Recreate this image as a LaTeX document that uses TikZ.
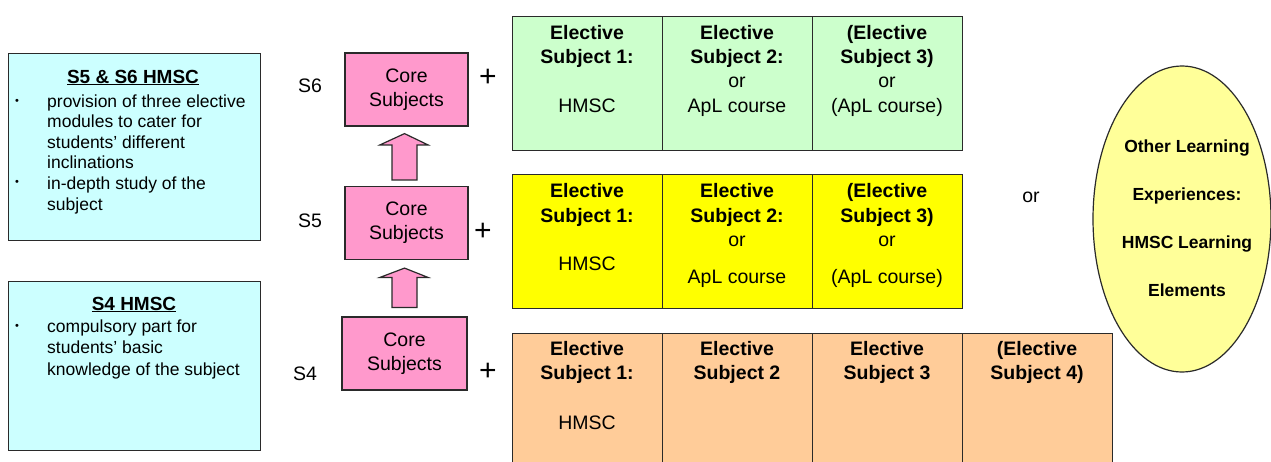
\documentclass[tikz,border=0pt]{standalone}
\usepackage{fontspec}
\setmainfont{Liberation Sans}
\usetikzlibrary{calc,shapes.geometric}
\definecolor{cyanfill}{HTML}{CCFFFF}
\definecolor{greenfill}{HTML}{CCFFCC}
\definecolor{yellowfill}{HTML}{FFFF00}
\definecolor{orangefill}{HTML}{FFCC99}
\definecolor{pinkfill}{HTML}{FF99CC}
\definecolor{ellfill}{HTML}{FFFF99}
\definecolor{edge}{HTML}{2A2A2A}
\newcommand{\apos}{{\char"27}}
\begin{document}
\begin{tikzpicture}[x=1pt,y=-1pt,
  infobox/.style={draw=edge,line width=1.2pt,fill=cyanfill,anchor=north west,inner sep=0pt},
  corebox/.style={draw=edge,line width=1.2pt,fill=pinkfill,minimum width=123pt,minimum height=73pt,inner sep=0pt,align=center,font=\fontsize{19.5}{24}\selectfont},
  cell/.style={draw=edge,line width=1.2pt,anchor=north west,minimum width=150pt,minimum height=134pt,inner sep=0pt},
  blockarr/.style={draw=edge,line width=1.2pt,fill=pinkfill,line join=miter},
  hd/.style={anchor=base,inner sep=0pt,font=\fontsize{19.5}{24}\bfseries},
  tx/.style={anchor=base,inner sep=0pt,font=\fontsize{19.5}{24}\selectfont},
  plus/.style={anchor=base,inner sep=0pt,font=\fontsize{30}{32}\selectfont},
  side/.style={anchor=base west,inner sep=0pt,font=\fontsize{17.5}{21}\selectfont},
  bul/.style={anchor=base,inner sep=0pt,font=\fontsize{11}{12}\selectfont},
  lhd/.style={anchor=base,inner sep=0pt,font=\fontsize{19}{22}\bfseries},
  ell/.style={anchor=base,inner sep=0pt,font=\fontsize{17.5}{21}\bfseries}]
\useasboundingbox (0,0) rectangle (1271,461);
\fill[white] (0,0) rectangle (1271,461);

% left info boxes
\node[infobox,minimum width=252pt,minimum height=187pt] (info56) at (8,53) {};
\node[lhd] (h56) at (133,83) {\underline{S5 \& S6 HMSC}};
\node[bul] (b1) at (17,104) {•};
\node[side] (l1) at (47,107) {provision of three elective};
\node[side] (l2) at (47,127) {modules to cater for};
\node[side] (l3) at (47,148) {students\apos\ different};
\node[side] (l4) at (47,168) {inclinations};
\node[bul] (b2) at (17,185) {•};
\node[side] (l5) at (47,189) {in-depth study of the};
\node[side] (l6) at (47,210) {subject};

\node[infobox,minimum width=252pt,minimum height=169pt] (info4) at (8,281) {};
\node[lhd] (h4) at (134,310) {\underline{S4 HMSC}};
\node[bul] (b3) at (17,329) {•};
\node[side] (m1) at (47,332) {compulsory part for};
\node[side] (m2) at (47,353) {students\apos\ basic};
\node[side] (m3) at (47,375) {knowledge of the subject};

% level labels
\node[tx] (s6) at (310,92) {S6};
\node[tx] (s5) at (310,227) {S5};
\node[tx] (s4) at (305,380) {S4};

% core subject boxes
\node[corebox] (c6) at (406.5,89.5) {Core\\Subjects};
\node[corebox] (c5) at (406.5,223) {Core\\Subjects};
\node[corebox,minimum width=125pt] (c4) at (404.5,353.5) {Core\\Subjects};

% block arrows
\coordinate (a1) at ($(c5.north)+(-2,-6)$);
\draw[blockarr] ($(a1)+(-12.5,0)$) -- ($(a1)+(-12.5,-35)$) -- ($(a1)+(-24.5,-35)$)
  -- ($(c6.south)+(-2,7)$) -- ($(a1)+(23.5,-35)$) -- ($(a1)+(12.5,-35)$) -- ($(a1)+(12.5,0)$) -- cycle;
\coordinate (a2) at ($(c4.north)+(0,-9)$);
\draw[blockarr] ($(a2)+(-12.5,0)$) -- ($(a2)+(-12.5,-30)$) -- ($(a2)+(-24.5,-30)$)
  -- ($(c5.south)+(-2,8)$) -- ($(a2)+(23.5,-30)$) -- ($(a2)+(12.5,-30)$) -- ($(a2)+(12.5,0)$) -- cycle;

% plus signs
\node[plus] (p6) at (488,86) {+};
\node[plus] (p5) at (483,240) {+};
\node[plus] (p4) at (488,380) {+};

% S6 elective table (green)
\node[cell,fill=greenfill] (g1) at (512,16) {};
\node[cell,fill=greenfill] (g2) at (662,16) {};
\node[cell,fill=greenfill] (g3) at (812,16) {};
\node[hd] at (587,39) {Elective};
\node[hd] at (587,63) {Subject 1:};
\node[tx] at (587,112) {HMSC};
\node[hd] at (737,39) {Elective};
\node[hd] at (737,63) {Subject 2:};
\node[tx] at (737,87) {or};
\node[tx] at (737,112) {ApL course};
\node[hd] at (887,39) {(Elective};
\node[hd] at (887,63) {Subject 3)};
\node[tx] at (887,87) {or};
\node[tx] at (887,112) {(ApL course)};

% S5 elective table (yellow)
\node[cell,fill=yellowfill] (y1) at (512,174) {};
\node[cell,fill=yellowfill] (y2) at (662,174) {};
\node[cell,fill=yellowfill] (y3) at (812,174) {};
\node[hd] at (587,197) {Elective};
\node[hd] at (587,222) {Subject 1:};
\node[tx] at (587,270) {HMSC};
\node[hd] at (737,197) {Elective};
\node[hd] at (737,222) {Subject 2:};
\node[tx] at (737,246) {or};
\node[tx] at (737,283) {ApL course};
\node[hd] at (887,197) {(Elective};
\node[hd] at (887,222) {Subject 3)};
\node[tx] at (887,246) {or};
\node[tx] at (887,283) {(ApL course)};

% S4 elective table (orange)
\node[cell,fill=orangefill,minimum height=132pt] (o1) at (512,333) {};
\node[cell,fill=orangefill,minimum height=132pt] (o2) at (662,333) {};
\node[cell,fill=orangefill,minimum height=132pt] (o3) at (812,333) {};
\node[cell,fill=orangefill,minimum height=132pt] (o4) at (962,333) {};
\node[hd] at (587,355) {Elective};
\node[hd] at (587,379) {Subject 1:};
\node[tx] at (587,429) {HMSC};
\node[hd] at (737,355) {Elective};
\node[hd] at (737,379) {Subject 2};
\node[hd] at (887,355) {Elective};
\node[hd] at (887,379) {Subject 3};
\node[hd] at (1037,355) {(Elective};
\node[hd] at (1037,379) {Subject 4)};

% or + ellipse
\node[tx] (or) at (1031,202) {or};
\node[ellipse,draw=edge,line width=1.2pt,fill=ellfill,minimum width=178pt,minimum height=306pt,inner sep=0pt] (ole) at (1182,219) {};
\node[ell] at (1187,152) {Other Learning};
\node[ell] at (1187,200) {Experiences:};
\node[ell] at (1187,248) {HMSC Learning};
\node[ell] at (1187,296) {Elements};
\end{tikzpicture}
\end{document}
